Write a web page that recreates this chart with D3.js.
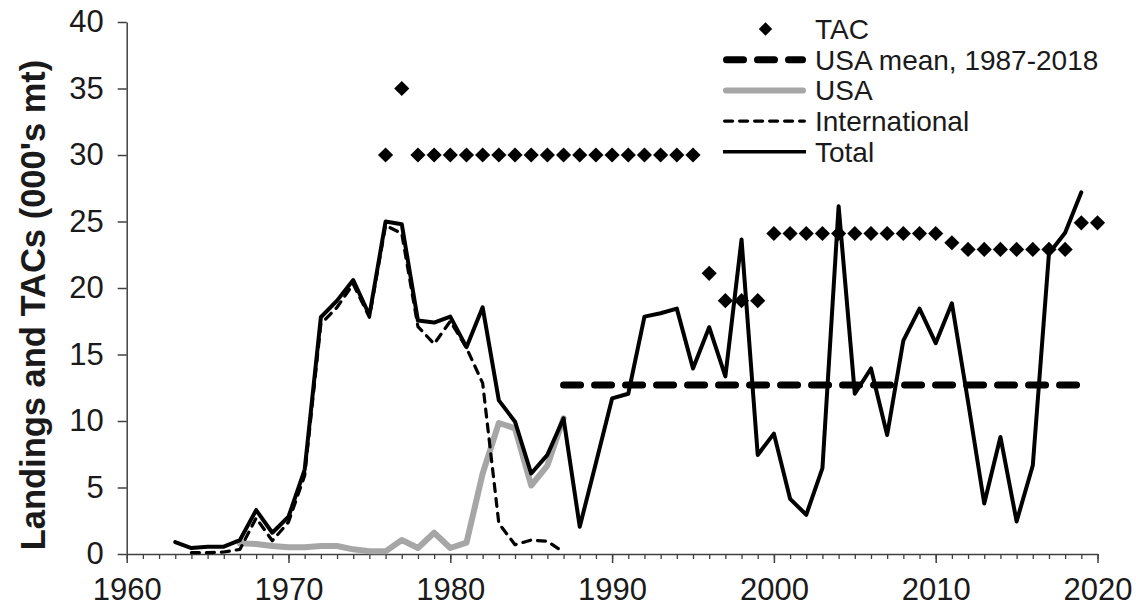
<!DOCTYPE html>
<html>
<head>
<meta charset="utf-8">
<script src="https://cdn.jsdelivr.net/npm/d3@7"></script>
<style>
  html, body { margin: 0; padding: 0; background: #fff; }
  svg { display: block; }
  text { font-family: "Liberation Sans", Arial, sans-serif; fill: #1a1a1a; }
</style>
</head>
<body>
<svg id="chart" width="1136" height="609"></svg>
<script>
// ---------- data ----------
const totalYears = d3.range(1963, 2020);
const totalValues = [
  0.9, 0.45, 0.55, 0.55, 1.05, 3.3, 1.6, 2.8, 6.35, 17.8,      // 1963-1972
  19.05, 20.6, 17.95, 25.0, 24.8, 17.55, 17.4, 17.85, 15.55, 18.55, // 1973-1982
  11.55, 9.95, 6.05, 7.45, 10.2, 2.05, 6.85, 11.7, 12.05, 17.85,  // 1983-1992
  18.1, 18.45, 13.95, 17.05, 13.35, 23.65, 7.45, 9.05, 4.15, 2.95, // 1993-2002
  6.45, 26.15, 12.05, 13.95, 8.95, 16.05, 18.45, 15.85, 18.85, 11.45, // 2003-2012
  3.8, 8.8, 2.45, 6.65, 22.6, 24.15, 27.2                          // 2013-2019
];

const intlYears = d3.range(1964, 1988);
const intlValues = [
  0.1, 0.1, 0.15, 0.35, 2.7, 1.0, 2.4, 5.9, 17.3, 18.55,   // 1964-1973
  20.3, 17.8, 24.7, 24.1, 17.1, 15.8, 17.5, 15.5, 12.85, 2.3, // 1974-1983
  0.7, 1.05, 0.95, 0.15                                     // 1984-1987
];

const usaYears = d3.range(1967, 1988);
const usaValues = [
  0.8, 0.75, 0.6, 0.5, 0.5, 0.6, 0.6, 0.35, 0.2, 0.2,   // 1967-1976
  1.05, 0.45, 1.6, 0.45, 0.85, 6.05, 9.85, 9.45, 5.15, 6.65, // 1977-1986
  10.2                                                  // 1987
];

const tacYears = d3.range(1976, 2021);
const tacValues = [
  30, 35, 30, 30, 30, 30, 30, 30, 30, 30,   // 1976-1985
  30, 30, 30, 30, 30, 30, 30, 30, 30, 30,   // 1986-1995
  21.1, 19.05, 19.05, 19.05,                // 1996-1999
  24.1, 24.1, 24.1, 24.1, 24.1, 24.1, 24.1, 24.1, 24.1, 24.1, 24.1, // 2000-2010
  23.4,                                     // 2011
  22.9, 22.9, 22.9, 22.9, 22.9, 22.9, 22.9, // 2012-2018
  24.9, 24.9                                // 2019-2020
];

const usaMeanYears = [1987, 2019];
const usaMeanValue = 12.7;

const xTicks = [1960, 1970, 1980, 1990, 2000, 2010, 2020];
const yTicks = [0, 5, 10, 15, 20, 25, 30, 35, 40];

const legendLabels = ["TAC", "USA mean, 1987-2018", "USA", "International", "Total"];
const yTitle = "Landings and TACs (000's mt)";

// ---------- chart ----------
const svg = d3.select("#chart");
const x = d3.scaleLinear().domain([1960, 2020]).range([126.7, 1097.5]);
const y = d3.scaleLinear().domain([0, 40]).range([554, 22]);
const axisColor = "#404040";
const fontFam = "'Liberation Sans', Arial, sans-serif";

// axes
const xMinor = d3.range(1960, 2021);
const xAxisMinor = d3.axisBottom(x).tickValues(xMinor).tickSize(5).tickFormat("");
const gxMinor = svg.append("g").attr("transform", `translate(0,${y(0)})`).call(xAxisMinor);
gxMinor.selectAll("line").attr("stroke", axisColor).attr("stroke-width", 1.3);
gxMinor.select(".domain").remove();

const xAxis = d3.axisBottom(x).tickValues(xTicks).tickSize(9).tickSizeOuter(0).tickPadding(15).tickFormat(d3.format("d"));
const gx = svg.append("g").attr("transform", `translate(0,${y(0)})`).call(xAxis);
gx.select(".domain").attr("stroke", axisColor).attr("stroke-width", 1.5);
gx.selectAll("line").attr("stroke", axisColor).attr("stroke-width", 1.5);
gx.selectAll("text").attr("font-size", 31).attr("fill", "#1a1a1a").attr("font-family", fontFam);

const yAxis = d3.axisLeft(y).tickValues(yTicks).tickSize(9).tickSizeOuter(0).tickPadding(14);
const gy = svg.append("g").attr("transform", `translate(${x(1960)},0)`).call(yAxis);
gy.select(".domain").attr("stroke", axisColor).attr("stroke-width", 1.5);
gy.selectAll("line").attr("stroke", axisColor).attr("stroke-width", 1.5);
gy.selectAll("text").attr("font-size", 31).attr("fill", "#1a1a1a").attr("font-family", fontFam);

// y title
svg.append("text")
  .attr("transform", `translate(45,${(y(0) + y(40)) / 2 + 17}) rotate(-90)`)
  .attr("text-anchor", "middle")
  .attr("font-size", 34.5)
  .attr("font-weight", "bold")
  .text(yTitle);

// lines
const line = d3.line().x(d => x(d[0])).y(d => y(d[1]));

// USA mean
svg.append("path")
  .datum(usaMeanYears.map(yr => [yr, usaMeanValue]))
  .attr("d", line)
  .attr("fill", "none").attr("stroke", "#000").attr("stroke-width", 7)
  .attr("stroke-dasharray", "17,14").attr("stroke-linecap", "round");

// USA
svg.append("path")
  .datum(d3.zip(usaYears, usaValues))
  .attr("d", line)
  .attr("fill", "none").attr("stroke", "#a6a6a6").attr("stroke-width", 6)
  .attr("stroke-linejoin", "round").attr("stroke-linecap", "round");

// International
svg.append("path")
  .datum(d3.zip(intlYears, intlValues))
  .attr("d", line)
  .attr("fill", "none").attr("stroke", "#000").attr("stroke-width", 3.2)
  .attr("stroke-dasharray", "8,7").attr("stroke-linecap", "round")
  .attr("stroke-linejoin", "round");

// Total
svg.append("path")
  .datum(d3.zip(totalYears, totalValues))
  .attr("d", line)
  .attr("fill", "none").attr("stroke", "#000").attr("stroke-width", 4)
  .attr("stroke-linejoin", "round").attr("stroke-linecap", "round");

// TAC diamonds
const diamond = d3.symbol().type(d3.symbolSquare).size(115);
svg.append("g").selectAll("path")
  .data(d3.zip(tacYears, tacValues))
  .join("path")
  .attr("d", diamond)
  .attr("transform", d => `translate(${x(d[0])},${y(d[1])}) rotate(45)`)
  .attr("fill", "#000");

// legend
const lgX0 = 723, lgX1 = 806, lgTextX = 815, lgY0 = 29, lgStep = 30.7;
const lg = svg.append("g");
lg.append("path").attr("d", d3.symbol().type(d3.symbolSquare).size(90))
  .attr("transform", `translate(${(lgX0 + lgX1) / 2 + 1},${lgY0}) rotate(45)`).attr("fill", "#000");
const lgStyles = [
  null,
  { w: 7, c: "#000", dash: "17,14", cap: "round" },
  { w: 6, c: "#a6a6a6", dash: null, cap: "round" },
  { w: 3.2, c: "#000", dash: "8,7", cap: "round" },
  { w: 3.5, c: "#000", dash: null, cap: "butt" }
];
lgStyles.forEach((s, i) => {
  if (!s) return;
  const yy = lgY0 + i * lgStep;
  lg.append("line").attr("x1", lgX0 + (s.cap === "round" ? s.w / 2 : 0)).attr("x2", lgX1 - (s.cap === "round" ? s.w / 2 : 0))
    .attr("y1", yy).attr("y2", yy)
    .attr("stroke", s.c).attr("stroke-width", s.w)
    .attr("stroke-dasharray", s.dash).attr("stroke-linecap", s.cap);
});
legendLabels.forEach((t, i) => {
  lg.append("text").attr("x", lgTextX).attr("y", lgY0 + i * lgStep)
    .attr("dy", "0.36em").attr("font-size", 28).text(t);
});
</script>
</body>
</html>
